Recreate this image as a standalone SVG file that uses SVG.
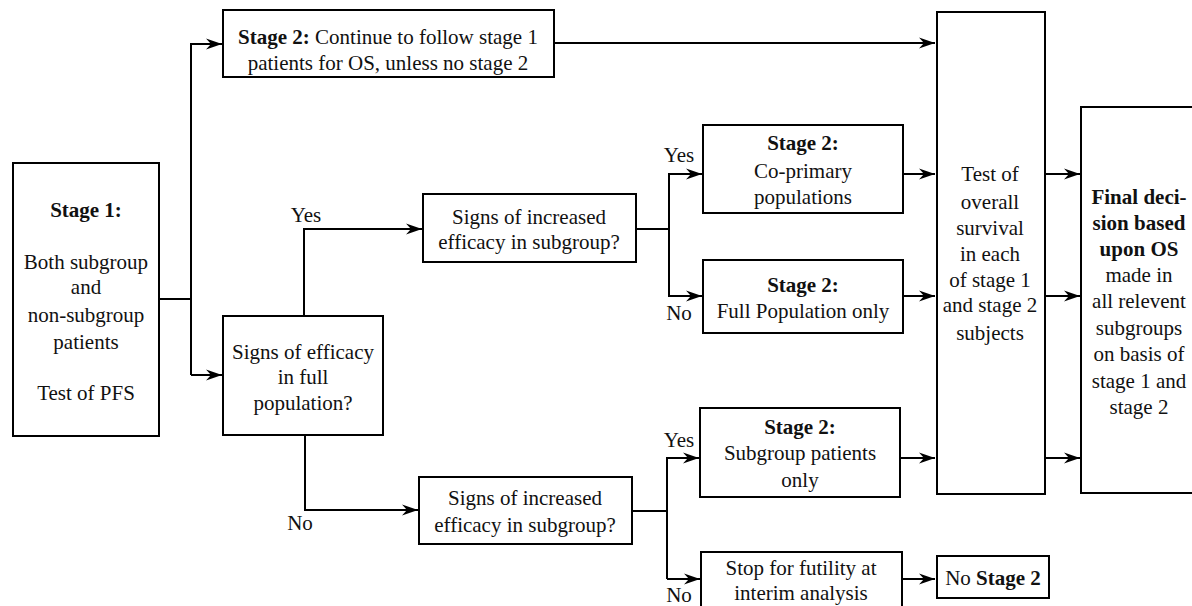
<svg xmlns="http://www.w3.org/2000/svg" width="1192" height="606" viewBox="0 0 1192 606">
<style>
.box{fill:#fff;stroke:#000;stroke-width:2}
.t{font-family:"Liberation Serif","Times New Roman",serif;font-size:21px;fill:#111;text-anchor:middle}
.b{font-weight:bold}
.c{fill:none;stroke:#000;stroke-width:2}
</style>
<defs>
<marker id="ah" markerUnits="userSpaceOnUse" markerWidth="18" markerHeight="14" refX="16" refY="7" orient="auto">
<path d="M0,1.5 L16,7 L0,12.5 L5,7 z" fill="#000"/>
</marker>
</defs>
<rect width="1192" height="606" fill="#fff"/>
<g id="connectors">
<path class="c" d="M159,299 H191"/>
<path class="c" d="M191,375 V44 H222" marker-end="url(#ah)"/>
<path class="c" d="M191,375 H222" marker-end="url(#ah)"/>
<path class="c" d="M554,43 H935" marker-end="url(#ah)"/>
<path class="c" d="M304,316 V229 H422" marker-end="url(#ah)"/>
<path class="c" d="M305,435 V510 H418" marker-end="url(#ah)"/>
<path class="c" d="M636,229 H669"/>
<path class="c" d="M669,297 V174 H702" marker-end="url(#ah)"/>
<path class="c" d="M669,296 H702" marker-end="url(#ah)"/>
<path class="c" d="M901,174 H935" marker-end="url(#ah)"/>
<path class="c" d="M903,296 H935" marker-end="url(#ah)"/>
<path class="c" d="M632,511 H667"/>
<path class="c" d="M667,579 V458 H699" marker-end="url(#ah)"/>
<path class="c" d="M667,579 H700" marker-end="url(#ah)"/>
<path class="c" d="M900,458 H935" marker-end="url(#ah)"/>
<path class="c" d="M902,579 H935" marker-end="url(#ah)"/>
<path class="c" d="M1045,174 H1080" marker-end="url(#ah)"/>
<path class="c" d="M1045,296 H1080" marker-end="url(#ah)"/>
<path class="c" d="M1045,458 H1080" marker-end="url(#ah)"/>
</g>
<g id="labels">
<text class="t" x="306" y="222">Yes</text>
<text class="t" x="300" y="530">No</text>
<text class="t" x="679" y="162">Yes</text>
<text class="t" x="679" y="320">No</text>
<text class="t" x="679" y="447">Yes</text>
<text class="t" x="679" y="602">No</text>
</g>
<g id="stage1">
<rect class="box" x="13" y="163" width="146" height="273"/>
<text class="t b" x="86" y="217">Stage 1:</text>
<text class="t" x="86" y="269">Both subgroup</text>
<text class="t" x="86" y="294">and</text>
<text class="t" x="86" y="322">non-subgroup</text>
<text class="t" x="86" y="349">patients</text>
<text class="t" x="86" y="400">Test of PFS</text>
</g>
<g id="stage2-follow">
<rect class="box" x="223" y="10" width="331" height="67"/>
<text class="t" x="388" y="44"><tspan class="b">Stage 2:</tspan> Continue to follow stage 1</text>
<text class="t" x="388" y="70">patients for OS, unless no stage 2</text>
</g>
<g id="efficacy-full">
<rect class="box" x="223" y="316" width="160" height="119"/>
<text class="t" x="303" y="359">Signs of efficacy</text>
<text class="t" x="303" y="384">in full</text>
<text class="t" x="303" y="410">population?</text>
</g>
<g id="increased-upper">
<rect class="box" x="423" y="194" width="213" height="68"/>
<text class="t" x="529" y="224">Signs of increased</text>
<text class="t" x="529" y="249">efficacy in subgroup?</text>
</g>
<g id="increased-lower">
<rect class="box" x="419" y="477" width="213" height="67"/>
<text class="t" x="525" y="505">Signs of increased</text>
<text class="t" x="525" y="532">efficacy in subgroup?</text>
</g>
<g id="coprimary">
<rect class="box" x="703" y="125" width="200" height="88"/>
<text class="t b" x="803" y="150">Stage 2:</text>
<text class="t" x="803" y="178">Co-primary</text>
<text class="t" x="803" y="204">populations</text>
</g>
<g id="fullpop">
<rect class="box" x="703" y="260" width="200" height="73"/>
<text class="t b" x="803" y="292">Stage 2:</text>
<text class="t" x="803" y="318">Full Population only</text>
</g>
<g id="subgroup-only">
<rect class="box" x="700" y="408" width="200" height="89"/>
<text class="t b" x="800" y="434">Stage 2:</text>
<text class="t" x="800" y="460">Subgroup patients</text>
<text class="t" x="800" y="487">only</text>
</g>
<g id="futility">
<rect class="box" x="701" y="552" width="201" height="62"/>
<text class="t" x="801" y="575">Stop for futility at</text>
<text class="t" x="801" y="600">interim analysis</text>
</g>
<g id="no-stage2">
<rect class="box" x="937" y="556" width="112" height="42"/>
<text class="t" x="993" y="585">No <tspan class="b">Stage 2</tspan></text>
</g>
<g id="os-test">
<rect class="box" x="937" y="12" width="108" height="482"/>
<text class="t" x="990" y="181">Test of</text>
<text class="t" x="990" y="209">overall</text>
<text class="t" x="990" y="235">survival</text>
<text class="t" x="990" y="261">in each</text>
<text class="t" x="990" y="287">of stage 1</text>
<text class="t" x="990" y="312">and stage 2</text>
<text class="t" x="990" y="340">subjects</text>
</g>
<g id="final">
<rect class="box" x="1081" y="107" width="130" height="386"/>
<text class="t b" x="1139" y="204">Final deci-</text>
<text class="t b" x="1139" y="230">sion based</text>
<text class="t b" x="1139" y="256">upon OS</text>
<text class="t" x="1139" y="282">made in</text>
<text class="t" x="1139" y="308">all relevent</text>
<text class="t" x="1139" y="335">subgroups</text>
<text class="t" x="1139" y="361">on basis of</text>
<text class="t" x="1139" y="388">stage 1 and</text>
<text class="t" x="1139" y="414">stage 2</text>
</g>
</svg>
